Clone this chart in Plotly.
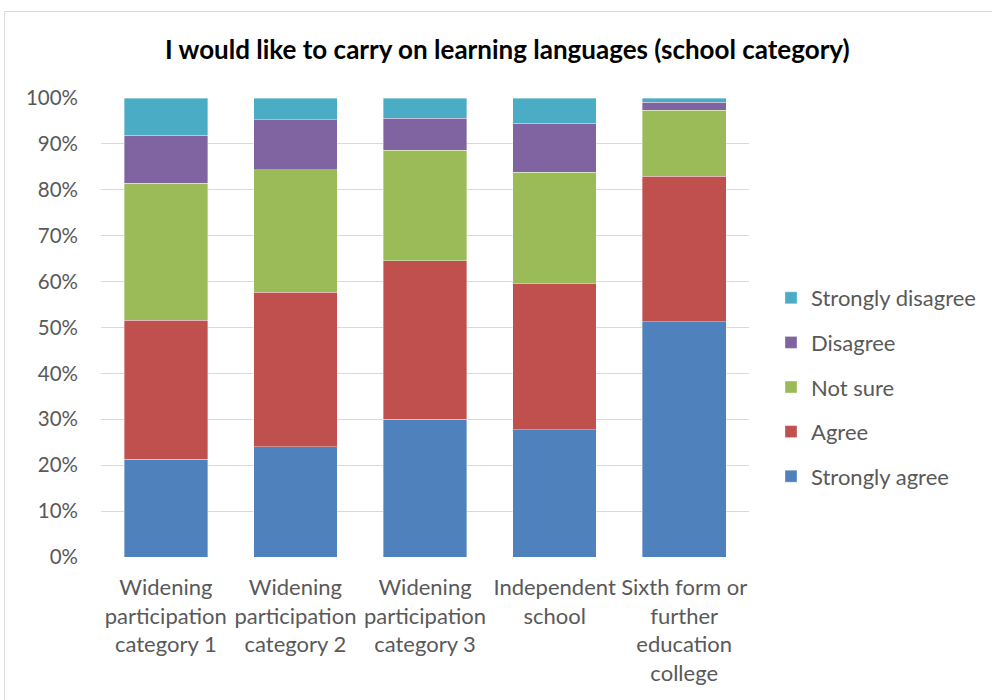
import plotly.graph_objects as go

# School categories shown along the x axis
categories = [
    "Widening<br>participation<br>category 1",
    "Widening<br>participation<br>category 2",
    "Widening<br>participation<br>category 3",
    "Independent<br>school",
    "Sixth form or<br>further<br>education<br>college",
]

# Share of responses per category (percent)
strongly_agree = [21.3, 24.0, 30.0, 27.7, 51.2]
agree = [30.3, 33.7, 34.5, 31.9, 31.8]
not_sure = [29.8, 26.7, 24.1, 24.2, 14.3]
disagree = [10.5, 10.9, 7.0, 10.7, 1.8]
strongly_disagree = [8.1, 4.7, 4.4, 5.5, 0.9]

y_ticks = [0, 10, 20, 30, 40, 50, 60, 70, 80, 90, 100]
y_tick_labels = [f"{v}%" for v in y_ticks]

series = [
    ("Strongly agree", strongly_agree, "#4F81BD"),
    ("Agree", agree, "#C0504D"),
    ("Not sure", not_sure, "#9BBB59"),
    ("Disagree", disagree, "#8064A2"),
    ("Strongly disagree", strongly_disagree, "#4BACC6"),
]

FONT = "Lato"
TEXT = "#595959"

fig = go.Figure()
n = len(series)
for i, (name, vals, color) in enumerate(series):
    fig.add_trace(go.Bar(
        x=list(range(len(categories))),
        y=[v / 100 for v in vals],
        name=name,
        legendgroup=name,
        legendrank=n - i,
        marker=dict(color=color, line=dict(color="rgba(255,255,255,0.6)", width=0.6)),
    ))

W, H = 992, 700
ml, mr, mt, mb = 101, 242, 98, 143
pw, ph = W - ml - mr, H - mt - mb

def px_to_paper_x(px):
    return (px - ml) / pw

def px_to_paper_y(py):
    return (H - mb - py) / ph

fig.update_layout(
    width=W, height=H,
    margin=dict(l=ml, r=mr, t=mt, b=mb, pad=0),
    paper_bgcolor="white", plot_bgcolor="white",
    barmode="stack", bargap=0.355,
    font=dict(family=FONT, color=TEXT, size=21),
    title=dict(
        text="<b>I would like to carry on learning languages (school category)</b>",
        font=dict(family=FONT, size=26, color="#000000"),
        x=px_to_paper_x(508), xref="paper", xanchor="center",
        y=1 - 50 / H, yanchor="middle",
    ),
    xaxis=dict(
        tickmode="array",
        tickvals=list(range(len(categories))),
        ticktext=categories,
        range=[-0.5, len(categories) - 0.5],
        showgrid=False, zeroline=False, showline=False,
        ticks="", ticklabelstandoff=15,
        tickfont=dict(size=22, color=TEXT),
    ),
    yaxis=dict(
        range=[0, 1],
        tickmode="array",
        tickvals=[v / 100 for v in y_ticks],
        ticktext=y_tick_labels,
        showgrid=True, gridcolor="#D9D9D9", gridwidth=1,
        zeroline=False, showline=False, ticks="",
        ticklabelstandoff=22,
        tickfont=dict(size=20.5, color=TEXT),
    ),
    legend=dict(
        traceorder="grouped",
        tracegroupgap=13,
        x=px_to_paper_x(771), xanchor="left",
        y=px_to_paper_y(277), yanchor="top",
        font=dict(size=22, color=TEXT),
        itemwidth=30,
        bgcolor="rgba(0,0,0,0)",
    ),
    shapes=[dict(
        type="rect", xref="paper", yref="paper",
        x0=px_to_paper_x(4.5), x1=px_to_paper_x(1010),
        y0=px_to_paper_y(720), y1=px_to_paper_y(11.5),
        line=dict(color="#D9D9D9", width=1), fillcolor="rgba(0,0,0,0)",
        layer="below",
    )],
)

fig.write_html("out.html")
